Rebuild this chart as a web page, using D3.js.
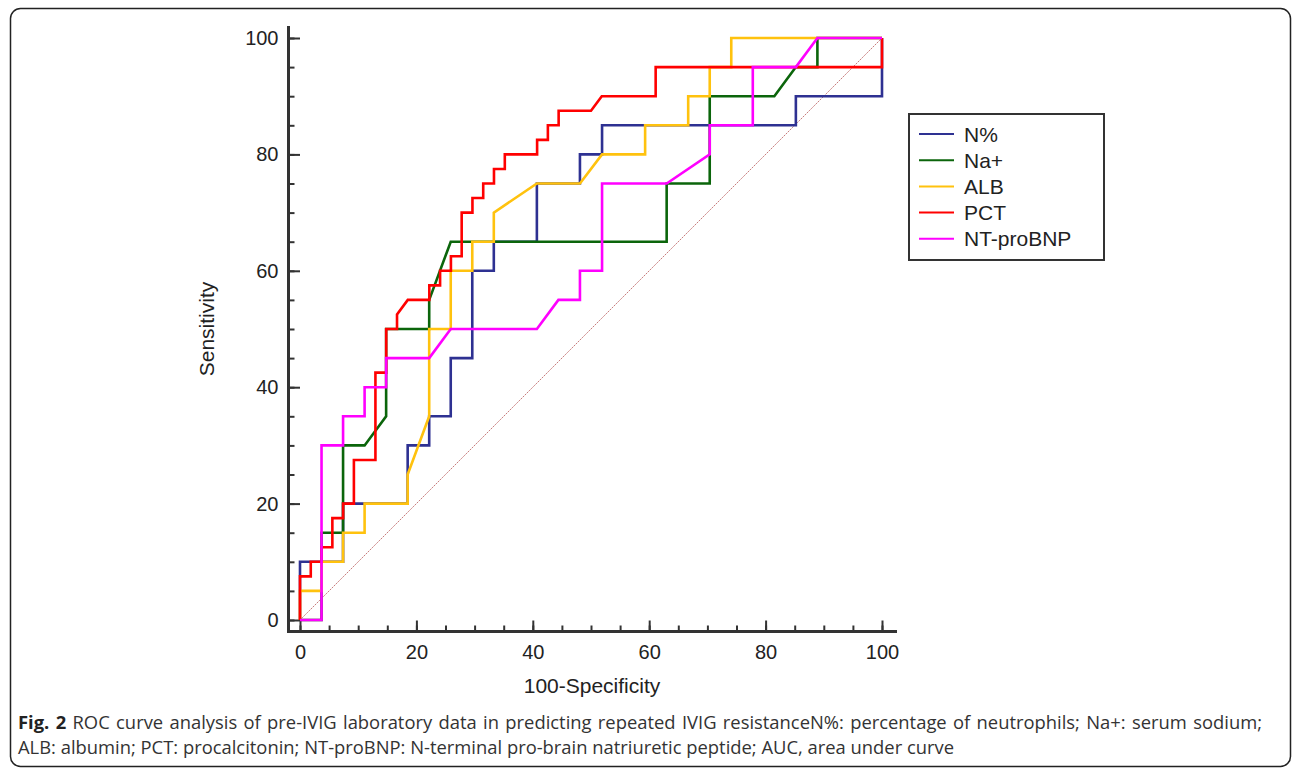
<!DOCTYPE html>
<html>
<head>
<meta charset="utf-8">
<script src="https://cdnjs.cloudflare.com/ajax/libs/d3/7.8.5/d3.min.js"></script>
<style>
  html, body { margin: 0; padding: 0; background: #fff; }
  svg { display: block; }
</style>
</head>
<body>
<svg id="chart" width="1292" height="770"></svg>
<script>
		// series names, in legend order
		var seriesNames = [ 'N%', 'Na+', 'ALB', 'PCT', 'NT-proBNP' ];

		// roc points [ 100-specificity, sensitivity ]
		var nPct = [ [0,0],[0,10],[7.4,10],[7.4,20],[18.5,20],[18.5,30],[22.2,30],[22.2,35],[25.9,35],[25.9,45],
			[29.6,45],[29.6,60],[33.3,60],[33.3,65],[40.7,65],[40.7,75],[48.1,75],[48.1,80],[51.9,80],[51.9,85],
			[85.2,85],[85.2,90],[100,90],[100,100] ];

		var naPlus = [ [0,0],[3.7,0],[3.7,15],[7.4,15],[7.4,30],[11.1,30],[14.8,35],[14.8,50],[22.2,50],[22.2,55],
			[25.9,65],[63,65],[63,75],[70.4,75],[70.4,90],[81.5,90],[85.2,95],[88.9,95],[88.9,100],[100,100] ];

		var alb = [ [0,0],[0,5],[3.7,5],[3.7,10],[7.4,10],[7.4,15],[11.1,15],[11.1,20],[18.5,20],[18.5,25],
			[22.2,35],[22.2,50],[25.9,50],[25.9,60],[29.6,60],[29.6,65],[33.3,65],[33.3,70],[40.7,75],[48.1,75],
			[51.9,80],[59.3,80],[59.3,85],[66.7,85],[66.7,90],[70.4,90],[70.4,95],[74.1,95],[74.1,100],[100,100] ];

		var pct = [ [0,0],[0,7.5],[1.85,7.5],[1.85,10],[3.7,10],[3.7,12.5],[5.56,12.5],[5.56,17.5],[7.41,17.5],[7.41,20],
			[9.26,20],[9.26,27.5],[12.96,27.5],[12.96,42.5],[14.81,42.5],[14.81,50],[16.67,50],[16.67,52.5],[18.52,55],
			[22.22,55],[22.22,57.5],[24.07,57.5],[24.07,60],[25.93,60],[25.93,62.5],[27.78,62.5],[27.78,70],[29.63,70],
			[29.63,72.5],[31.48,72.5],[31.48,75],[33.33,75],[33.33,77.5],[35.19,77.5],[35.19,80],[40.74,80],[40.74,82.5],
			[42.59,82.5],[42.59,85],[44.44,85],[44.44,87.5],[50,87.5],[51.85,90],[61.11,90],[61.11,95],[100,95],[100,100] ];

		var ntProBnp = [ [0,0],[3.7,0],[3.7,30],[7.4,30],[7.4,35],[11.1,35],[11.1,40],[14.8,40],[14.8,45],[22.2,45],
			[25.9,50],[40.7,50],[44.4,55],[48.1,55],[48.1,60],[51.9,60],[51.9,75],[63,75],[70.4,80],[70.4,85],
			[77.8,85],[77.8,95],[85.2,95],[88.9,100],[100,100] ];

		var seriesData = [ nPct, naPlus, alb, pct, ntProBnp ];

		// tick labels
		var xTicks = [ 0, 20, 40, 60, 80, 100 ],
			yTicks = [ 0, 20, 40, 60, 80, 100 ],
			minorTicks = d3.range( 0, 101, 5 );

		var colors = [ '#2e3192', '#0b650b', '#ffc20e', '#ff0000', '#ff00ff' ];

		var captionBold = 'Fig. 2',
			captionLine1 = ' ROC curve analysis of pre-IVIG laboratory data in predicting repeated IVIG resistanceN%: percentage of neutrophils; Na+: serum sodium;',
			captionLine2 = 'ALB: albumin; PCT: procalcitonin; NT-proBNP: N-terminal pro-brain natriuretic peptide; AUC, area under curve';

		var svg = d3.select( '#chart' );

		svg.append( 'rect' ).attr( 'width', 1292 ).attr( 'height', 770 ).attr( 'fill', '#fff' );

		// rounded frame
		svg.append( 'rect' )
		   .attr( 'x', 10.5 ).attr( 'y', 8.5 )
		   .attr( 'width', 1280 ).attr( 'height', 758 )
		   .attr( 'rx', 10 ).attr( 'ry', 10 )
		   .attr( 'fill', 'none' )
		   .attr( 'stroke', '#222' )
		   .attr( 'stroke-width', 1.5 );

		var xScale = d3.scaleLinear().domain( [ 0, 100 ] ).range( [ 300, 882 ] ),
			yScale = d3.scaleLinear().domain( [ 0, 100 ] ).range( [ 620, 38 ] );

		var spineX = 288.5,
			spineY = 631.5;

		// minor ticks
		svg.append( 'g' )
		   .attr( 'class', 'yMinor' )
		   .attr( 'transform', 'translate(' + spineX + ',0)' )
		   .call( d3.axisLeft( yScale ).tickValues( minorTicks ).tickSize( -6 ).tickFormat( '' ) );

		svg.append( 'g' )
		   .attr( 'class', 'xMinor' )
		   .attr( 'transform', 'translate(0,' + spineY + ')' )
		   .call( d3.axisBottom( xScale ).tickValues( minorTicks ).tickSize( -6 ).tickFormat( '' ) );

		// major ticks with labels
		svg.append( 'g' )
		   .attr( 'class', 'yAxis' )
		   .attr( 'transform', 'translate(' + spineX + ',0)' )
		   .call( d3.axisLeft( yScale ).tickValues( yTicks ).tickSize( -11.5 ).tickPadding( 10 ) );

		svg.append( 'g' )
		   .attr( 'class', 'xAxis' )
		   .attr( 'transform', 'translate(0,' + spineY + ')' )
		   .call( d3.axisBottom( xScale ).tickValues( xTicks ).tickSize( -11 ).tickPadding( 13 ) );

		svg.selectAll( '.domain' ).remove();
		svg.selectAll( '.tick line' ).attr( 'stroke', '#333' ).attr( 'stroke-width', 2 );
		svg.selectAll( '.tick text' )
		   .attr( 'fill', '#222' )
		   .style( 'font-family', '"Liberation Sans", Arial, sans-serif' )
		   .style( 'font-size', '20px' );

		// spines
		svg.append( 'line' )
		   .attr( 'x1', spineX ).attr( 'x2', spineX )
		   .attr( 'y1', 26 ).attr( 'y2', spineY + 1.5 )
		   .attr( 'stroke', '#333' ).attr( 'stroke-width', 3 );

		svg.append( 'line' )
		   .attr( 'x1', spineX - 1.5 ).attr( 'x2', 897 )
		   .attr( 'y1', spineY ).attr( 'y2', spineY )
		   .attr( 'stroke', '#333' ).attr( 'stroke-width', 3 );

		// reference diagonal
		svg.append( 'line' )
		   .attr( 'x1', xScale( 0 ) ).attr( 'y1', yScale( 0 ) )
		   .attr( 'x2', xScale( 100 ) ).attr( 'y2', yScale( 100 ) )
		   .attr( 'stroke', '#c87c7c' )
		   .attr( 'stroke-width', 1 )
		   .attr( 'stroke-dasharray', '2,1' );

		var line = d3.line()
			.x( function( d ) { return xScale( d[ 0 ] ); } )
			.y( function( d ) { return yScale( d[ 1 ] ); } );

		svg.selectAll( '.roc' )
		   .data( seriesData )
		   .enter()
		   .append( 'path' )
			   .attr( 'class', 'roc' )
			   .attr( 'd', line )
			   .attr( 'fill', 'none' )
			   .attr( 'stroke', function( d, i ) { return colors[ i ]; } )
			   .attr( 'stroke-width', 2.6 );

		// axis titles
		svg.append( 'text' )
		   .attr( 'x', 592 ).attr( 'y', 693 )
		   .attr( 'text-anchor', 'middle' )
		   .attr( 'fill', '#222' )
		   .style( 'font-family', '"Liberation Sans", Arial, sans-serif' )
		   .style( 'font-size', '21px' )
		   .text( '100-Specificity' );

		svg.append( 'text' )
		   .attr( 'transform', 'translate(214,329) rotate(-90)' )
		   .attr( 'text-anchor', 'middle' )
		   .attr( 'fill', '#222' )
		   .style( 'font-family', '"Liberation Sans", Arial, sans-serif' )
		   .style( 'font-size', '21px' )
		   .text( 'Sensitivity' );

		// legend
		var legend = svg.append( 'g' ).attr( 'class', 'legend' );

		legend.append( 'rect' )
		   .attr( 'x', 909 ).attr( 'y', 114 )
		   .attr( 'width', 195 ).attr( 'height', 146 )
		   .attr( 'fill', '#fff' )
		   .attr( 'stroke', '#333' )
		   .attr( 'stroke-width', 2 );

		var rows = legend.selectAll( '.row' )
		   .data( seriesNames )
		   .enter()
		   .append( 'g' )
		   .attr( 'transform', function( d, i ) { return 'translate(0,' + ( 134 + i * 26.2 ) + ')'; } );

		rows.append( 'line' )
		   .attr( 'x1', 919 ).attr( 'x2', 954 )
		   .attr( 'stroke', function( d, i ) { return colors[ i ]; } )
		   .attr( 'stroke-width', 2 );

		rows.append( 'text' )
		   .attr( 'x', 964 ).attr( 'dy', '0.36em' )
		   .attr( 'fill', '#222' )
		   .style( 'font-family', '"Liberation Sans", Arial, sans-serif' )
		   .style( 'font-size', '21px' )
		   .text( function( d ) { return d; } );

		// caption
		var capFont = '"Open Sans", "Noto Sans", sans-serif';

		var cap1 = svg.append( 'text' )
		   .attr( 'x', 18 ).attr( 'y', 729 )
		   .attr( 'fill', '#333' )
		   .style( 'font-family', capFont )
		   .style( 'font-size', '16px' );

		cap1.append( 'tspan' ).attr( 'font-weight', 'bold' ).attr( 'fill', '#222' ).text( captionBold );
		cap1.append( 'tspan' ).text( captionLine1 );

		var cap2 = svg.append( 'text' )
		   .attr( 'x', 18 ).attr( 'y', 754 )
		   .attr( 'fill', '#333' )
		   .style( 'font-family', capFont )
		   .style( 'font-size', '16px' )
		   .text( captionLine2 );

		// fit caption size to the measured line width
		var w2 = cap2.node().getComputedTextLength(),
			capSize = 16 * 937 / w2;
		cap1.style( 'font-size', capSize + 'px' );
		cap2.style( 'font-size', capSize + 'px' );

		// stretch the first line a little through word spacing
		var w1 = cap1.node().getComputedTextLength(),
			gaps = ( captionBold + captionLine1 ).split( ' ' ).length - 1;
		cap1.style( 'word-spacing', ( ( 1244 - w1 ) / gaps ) + 'px' );
</script>
</body>
</html>
